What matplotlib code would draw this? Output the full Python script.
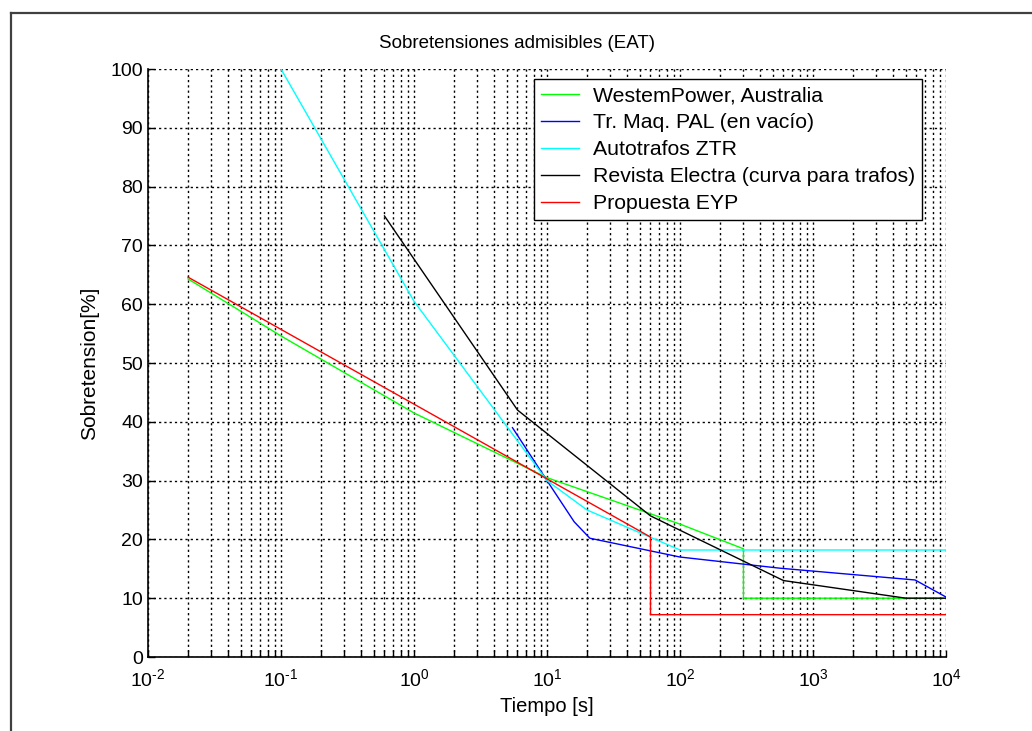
"""
Sobretensiones admisibles (EAT) -- curvas de sobretension admisible vs tiempo.
Salida: out.png (1032x731 px)
"""

import math

import matplotlib
matplotlib.use("Agg")
import matplotlib.pyplot as plt
from matplotlib.lines import Line2D
from matplotlib.ticker import FuncFormatter, LogLocator, NullFormatter, MultipleLocator

plt.rcParams["font.family"] = ["Liberation Sans", "DejaVu Sans"]
plt.rcParams["mathtext.fontset"] = "custom"
plt.rcParams["mathtext.rm"] = "Liberation Sans"
plt.rcParams["axes.unicode_minus"] = False

# ── datos ──────────────────────────────────────────────────────
western_t = [0.02, 0.1, 1, 10, 100, 300, 300, 1e4]
western_v = [64.3, 54.6, 41.5, 30.5, 22.6, 18.4, 10.0, 10.0]

pal_t = [5.5, 10, 16, 21, 100, 565, 5850, 1e4]
pal_v = [39.0, 30.0, 23.0, 20.2, 17.0, 15.1, 13.1, 10.2]

ztr_t = [0.1, 1, 10, 20, 100, 1e4]
ztr_v = [100.0, 60.5, 30.0, 25.0, 18.2, 18.2]

electra_t = [0.6, 6, 60, 600, 5000, 1e4]
electra_v = [75.0, 42.0, 24.0, 13.0, 10.0, 10.0]

eyp_t = [0.02, 60, 60, 1e4]
eyp_v = [64.6, 20.4, 7.2, 7.2]

series = [
    ("WestemPower, Australia", western_t, western_v, "#00ff00"),
    ("Tr. Maq. PAL (en vacío)", pal_t, pal_v, "#0000ff"),
    ("Autotrafos ZTR", ztr_t, ztr_v, "#00ffff"),
    ("Revista Electra (curva para trafos)", electra_t, electra_v, "#000000"),
    ("Propuesta EYP", eyp_t, eyp_v, "#ff0000"),
]

W, H = 1032, 731
DPI = 100
GRID_KW = dict(color="black", linestyle=(0, (1.6, 2.2)), linewidth=1.0)


def pow10_label(val, pos):
    # 10^n con guion corto (estilo MATLAB)
    e = int(round(math.log10(val)))
    return r"$\mathdefault{10^{\text{%d}}}$" % e


def main() -> None:
    fig = plt.figure(figsize=(W / DPI, H / DPI), dpi=DPI)
    fig.patch.set_facecolor("white")

    # marco de la ventana (captura)
    fig.add_artist(Line2D([11 / W, 1.0], [1 - 13 / H, 1 - 13 / H],
                          color="#404040", lw=1.6, transform=fig.transFigure))
    fig.add_artist(Line2D([11 / W, 11 / W], [0.0, 1 - 13 / H],
                          color="#404040", lw=1.6, transform=fig.transFigure))

    ax = fig.add_axes([148 / W, (H - 657) / H, (946 - 148) / W, (657 - 69) / H])

    for label, t, v, color in series:
        ax.plot(t, v, color=color, linewidth=1.0, label=label)

    ax.set_xscale("log")
    ax.set_xlim(1e-2, 1e4)
    ax.set_ylim(0, 100)
    ax.yaxis.set_major_locator(MultipleLocator(10))
    ax.xaxis.set_major_locator(LogLocator(base=10, numticks=10))
    ax.xaxis.set_major_formatter(FuncFormatter(pow10_label))
    ax.xaxis.set_minor_locator(LogLocator(base=10, subs=range(2, 10), numticks=20))
    ax.xaxis.set_minor_formatter(NullFormatter())

    ax.grid(True, which="major", axis="both", **GRID_KW)
    ax.grid(True, which="minor", axis="x", **GRID_KW)

    ax.spines["top"].set_visible(False)
    ax.spines["right"].set_visible(False)
    ax.spines["left"].set_linewidth(1.2)
    ax.spines["bottom"].set_linewidth(1.2)
    ax.tick_params(which="both", direction="in", length=5, width=1.0,
                   top=False, right=False, labelsize=14)
    ax.tick_params(axis="x", which="major", pad=8)

    ax.set_title("Sobretensiones admisibles (EAT)", fontsize=13.5, pad=15,
                 x=(517 - 148) / (946 - 148))
    ax.set_xlabel("Tiempo [s]", fontsize=14.5, labelpad=5)
    ax.set_ylabel("Sobretension[%]", fontsize=15, labelpad=8)

    leg = ax.legend(loc="upper left", bbox_to_anchor=(534 / W, 1 - 79 / H),
                    bbox_transform=fig.transFigure, fontsize=15.3,
                    frameon=True, fancybox=False, framealpha=1.0,
                    edgecolor="black", handlelength=1.8, handletextpad=0.65,
                    labelspacing=0.38, borderpad=0.33, borderaxespad=0)
    leg.get_frame().set_linewidth(1.0)

    fig.savefig("out.png", dpi=DPI, facecolor="white")
    plt.close(fig)


if __name__ == "__main__":
    main()
